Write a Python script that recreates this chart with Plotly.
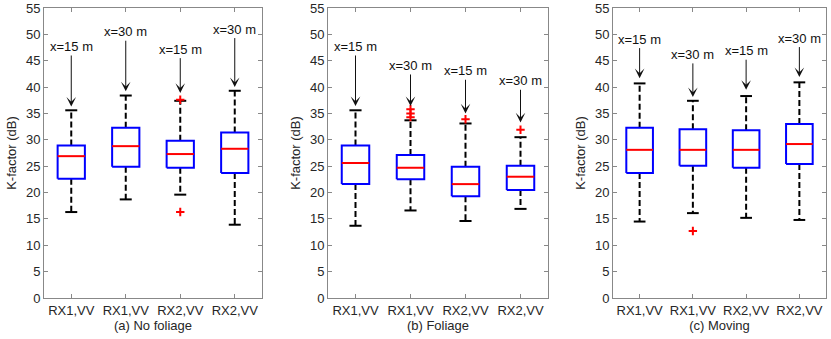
import plotly.graph_objects as go
from plotly.subplots import make_subplots

labels = ["RX1,VV", "RX1,VV", "RX2,VV", "RX2,VV"]
panel_titles = ["(a) No foliage", "(b) Foliage", "(c) Moving"]

# (a) No foliage
a_lower = [16.3, 18.7, 19.6, 13.9]
a_q1 = [22.6, 24.9, 24.7, 23.7]
a_median = [26.9, 28.8, 27.3, 28.3]
a_q3 = [28.9, 32.3, 29.8, 31.4]
a_upper = [35.6, 38.4, 37.4, 39.3]
a_outliers = [[], [], [37.6, 16.3], []]
a_notes = ["x=15 m", "x=30 m", "x=15 m", "x=30 m"]
a_note_y = [47.7, 50.5, 47.2, 51.0]
a_arrow_y = [36.3, 39.2, 38.9, 40.0]

# (b) Foliage
b_lower = [13.7, 16.6, 14.6, 16.9]
b_q1 = [21.6, 22.5, 19.3, 20.5]
b_median = [25.6, 24.7, 21.6, 23.0]
b_q3 = [28.9, 27.1, 24.9, 25.1]
b_upper = [35.6, 33.7, 33.1, 30.5]
b_outliers = [[], [35.8, 35.0, 34.3], [33.9], [31.9]]
b_notes = ["x=15 m", "x=30 m", "x=15 m", "x=30 m"]
b_note_y = [47.7, 44.1, 43.1, 41.2]
b_arrow_y = [36.4, 36.4, 35.0, 33.3]

# (c) Moving
c_lower = [14.5, 16.1, 15.2, 14.8]
c_q1 = [23.7, 25.1, 24.7, 25.4]
c_median = [28.1, 28.1, 28.1, 29.2]
c_q3 = [32.3, 32.0, 31.8, 33.0]
c_upper = [40.7, 37.4, 38.3, 40.9]
c_outliers = [[], [12.7], [], []]
c_notes = ["x=15 m", "x=30 m", "x=15 m", "x=30 m"]
c_note_y = [49.1, 46.2, 46.9, 49.3]
c_arrow_y = [41.7, 38.1, 39.5, 41.9]

panels = [
    (a_lower, a_q1, a_median, a_q3, a_upper, a_outliers, a_notes, a_note_y, a_arrow_y),
    (b_lower, b_q1, b_median, b_q3, b_upper, b_outliers, b_notes, b_note_y, b_arrow_y),
    (c_lower, c_q1, c_median, c_q3, c_upper, c_outliers, c_notes, c_note_y, c_arrow_y),
]

FONT = "Liberation Sans, Arial, sans-serif"
BOX_HALF = 0.25
CAP_HALF = 0.11

fig = make_subplots(rows=1, cols=3)

for col, (lo, q1, med, q3, up, outs, notes, note_y, arrow_y) in enumerate(panels, start=1):
    bx, by, mx, my, wx, wy, cx, cy, ox, oy = [], [], [], [], [], [], [], [], [], []
    sfx = str(col) if col > 1 else ""
    for i in range(len(labels)):
        x = i + 1
        # box outline
        bx += [x - BOX_HALF, x + BOX_HALF, x + BOX_HALF, x - BOX_HALF, x - BOX_HALF, None]
        by += [q1[i], q1[i], q3[i], q3[i], q1[i], None]
        # median
        mx += [x - BOX_HALF, x + BOX_HALF, None]
        my += [med[i], med[i], None]
        # whiskers
        wx += [x, x, None, x, x, None]
        wy += [q3[i], up[i], None, q1[i], lo[i], None]
        # caps
        cx += [x - CAP_HALF, x + CAP_HALF, None, x - CAP_HALF, x + CAP_HALF, None]
        cy += [up[i], up[i], None, lo[i], lo[i], None]
        for v in outs[i]:
            ox.append(x)
            oy.append(v)

        fig.add_annotation(
            x=x, y=arrow_y[i], ax=x, ay=note_y[i],
            xref="x" + sfx, yref="y" + sfx, axref="x" + sfx, ayref="y" + sfx,
            text=notes[i], showarrow=True, arrowhead=3, arrowsize=1.6,
            arrowwidth=1, arrowcolor="#111111",
            font=dict(family=FONT, size=13, color="#111111"),
        )

    fig.add_trace(go.Scatter(x=wx, y=wy, mode="lines",
                             line=dict(color="black", width=2, dash="6px,3px"),
                             showlegend=False, hoverinfo="skip"), row=1, col=col)
    fig.add_trace(go.Scatter(x=cx, y=cy, mode="lines",
                             line=dict(color="black", width=2),
                             showlegend=False, hoverinfo="skip"), row=1, col=col)
    fig.add_trace(go.Scatter(x=bx, y=by, mode="lines",
                             line=dict(color="#0000ff", width=2),
                             showlegend=False, hoverinfo="skip"), row=1, col=col)
    fig.add_trace(go.Scatter(x=mx, y=my, mode="lines",
                             line=dict(color="#ff0000", width=2),
                             showlegend=False, hoverinfo="skip"), row=1, col=col)
    fig.add_trace(go.Scatter(x=ox, y=oy, mode="markers",
                             marker=dict(symbol="cross-thin", size=6,
                                         line=dict(color="#ff0000", width=2)),
                             showlegend=False, hoverinfo="skip"), row=1, col=col)

    fig.update_xaxes(
        range=[0.5, 4.5], tickvals=[1, 2, 3, 4], ticktext=labels,
        ticks="inside", ticklen=4, tickcolor="#888888", mirror="ticks",
        showline=True, linecolor="#888888", linewidth=1, showgrid=False, zeroline=False,
        automargin=False,
        title=dict(text=panel_titles[col - 1], standoff=3,
                   font=dict(family=FONT, size=13, color="#262626")),
        tickfont=dict(family=FONT, size=13, color="#262626"),
        row=1, col=col,
    )
    fig.update_yaxes(
        range=[0, 55], dtick=5, ticks="inside", ticklen=4, tickcolor="#888888",
        mirror="ticks", showline=True, linecolor="#888888", linewidth=1,
        showgrid=False, zeroline=False, automargin=False,
        title=dict(text="K-factor (dB)", standoff=6,
                   font=dict(family=FONT, size=13, color="#262626")),
        tickfont=dict(family=FONT, size=13, color="#262626"),
        row=1, col=col,
    )

fig.update_layout(
    width=831, height=339,
    margin=dict(l=0, r=0, t=0, b=0),
    plot_bgcolor="white", paper_bgcolor="white",
    xaxis=dict(domain=[44 / 831, 262 / 831]),
    xaxis2=dict(domain=[328 / 831, 548 / 831]),
    xaxis3=dict(domain=[613 / 831, 826 / 831]),
    yaxis=dict(domain=[41 / 339, 331 / 339]),
    yaxis2=dict(domain=[41 / 339, 331 / 339]),
    yaxis3=dict(domain=[41 / 339, 331 / 339]),
)

fig.write_html("out.html", config={"displayModeBar": False},
               post_script="document.body.style.margin='0';")
